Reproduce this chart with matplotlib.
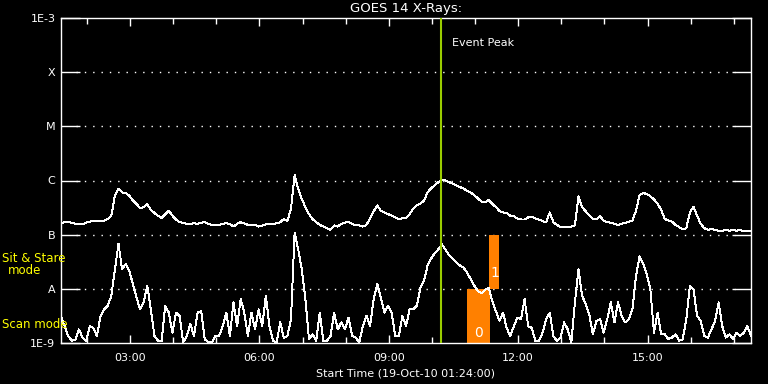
"""
GOES 14 X-ray flux plot, 19-Oct-2010, recreated with matplotlib.
Black background, IDL-style axes, flare classes on the y axis.
"""

import numpy as np
import matplotlib
matplotlib.use("Agg")
import matplotlib.pyplot as plt
import matplotlib.dates as mdates

BG = "black"
FG = "white"
YELLOW = "#ffff00"
ORANGE = "#ff8000"
PEAK = "#9acd00"

# ---------------------------------------------------------------------------
# data: log10 flux (W/m^2), 5 minute cadence from 01:24
# ---------------------------------------------------------------------------
start_time = np.datetime64("2010-10-19T01:24")
cadence_min = 5

# 1-8 Angstrom channel
long_log = [
    -6.80, -6.76, -6.77, -6.78, -6.80, -6.80, -6.81, -6.78, -6.76, -6.74, -6.75, -6.74, -6.74, -6.71, -6.65, -6.28,
    -6.15, -6.22, -6.23, -6.28, -6.37, -6.43, -6.51, -6.49, -6.44, -6.54, -6.60, -6.65, -6.69, -6.62, -6.56, -6.65,
    -6.72, -6.77, -6.78, -6.80, -6.80, -6.79, -6.80, -6.78, -6.77, -6.80, -6.82, -6.83, -6.82, -6.80, -6.79, -6.80,
    -6.85, -6.80, -6.77, -6.79, -6.82, -6.83, -6.82, -6.85, -6.83, -6.81, -6.80, -6.80, -6.79, -6.77, -6.71, -6.75,
    -6.52, -5.90, -6.15, -6.34, -6.49, -6.62, -6.71, -6.77, -6.82, -6.85, -6.88, -6.91, -6.83, -6.85, -6.80, -6.78,
    -6.76, -6.80, -6.83, -6.83, -6.85, -6.82, -6.70, -6.57, -6.46, -6.56, -6.59, -6.62, -6.65, -6.68, -6.71, -6.70,
    -6.70, -6.62, -6.52, -6.46, -6.43, -6.37, -6.22, -6.14, -6.09, -6.03, -5.99, -6.00, -6.03, -6.06, -6.09, -6.12,
    -6.15, -6.19, -6.22, -6.27, -6.33, -6.39, -6.40, -6.36, -6.43, -6.49, -6.56, -6.59, -6.60, -6.65, -6.66, -6.70,
    -6.72, -6.72, -6.68, -6.67, -6.70, -6.72, -6.75, -6.77, -6.59, -6.77, -6.82, -6.86, -6.86, -6.85, -6.85, -6.83,
    -6.29, -6.49, -6.57, -6.64, -6.71, -6.72, -6.66, -6.74, -6.77, -6.78, -6.80, -6.82, -6.80, -6.78, -6.76, -6.74,
    -6.56, -6.27, -6.23, -6.25, -6.29, -6.35, -6.43, -6.54, -6.71, -6.74, -6.76, -6.82, -6.86, -6.90, -6.88, -6.59,
    -6.48, -6.65, -6.80, -6.88, -6.91, -6.90, -6.91, -6.93, -6.93, -6.91, -6.93, -6.91, -6.93, -6.91, -6.94, -6.94,
    -6.94,
]

# 0.5-4 Angstrom channel
short_log = [
    -8.50, -8.69, -8.87, -8.96, -8.94, -8.75, -8.90, -8.96, -8.69, -8.72, -8.87, -8.50, -8.38, -8.31, -8.13, -7.64,
    -7.17, -7.64, -7.54, -7.67, -7.91, -8.16, -8.38, -8.25, -7.94, -8.38, -8.87, -8.96, -8.96, -8.31, -8.44, -8.81,
    -8.44, -8.50, -8.99, -8.87, -8.65, -8.87, -8.44, -8.41, -8.93, -8.99, -8.99, -8.87, -8.87, -8.69, -8.44, -8.87,
    -8.25, -8.69, -8.19, -8.44, -8.87, -8.44, -8.75, -8.38, -8.69, -8.13, -8.69, -8.96, -8.99, -8.62, -8.90, -8.87,
    -8.56, -6.96, -7.27, -7.64, -8.19, -8.93, -8.84, -8.96, -8.44, -8.96, -8.96, -8.87, -8.44, -8.75, -8.62, -8.75,
    -8.53, -8.87, -8.90, -8.99, -8.69, -8.50, -8.69, -8.19, -7.91, -8.16, -8.44, -8.31, -8.44, -8.87, -8.87, -8.50,
    -8.69, -8.38, -8.38, -8.31, -7.98, -7.85, -7.57, -7.44, -7.34, -7.27, -7.18, -7.28, -7.38, -7.44, -7.51, -7.57,
    -7.61, -7.70, -7.82, -7.94, -8.04, -8.08, -8.02, -7.98, -8.22, -8.41, -8.59, -8.44, -8.72, -8.87, -8.69, -8.53,
    -8.56, -8.19, -8.69, -8.72, -8.96, -8.96, -8.81, -8.56, -8.44, -8.87, -8.96, -8.90, -8.62, -8.75, -8.99, -8.25,
    -7.64, -8.13, -8.28, -8.47, -8.84, -8.59, -8.56, -8.81, -8.56, -8.25, -8.62, -8.25, -8.50, -8.62, -8.56, -8.38,
    -7.76, -7.40, -7.54, -7.73, -8.01, -8.81, -8.44, -8.84, -8.84, -8.93, -8.90, -8.84, -8.96, -8.93, -8.56, -7.94,
    -8.01, -8.50, -8.59, -8.87, -8.90, -8.75, -8.59, -8.25, -8.69, -8.90, -8.84, -8.93, -8.81, -8.87, -8.81, -8.69,
    -8.87,
]

# observing mode blocks (0 = scan mode, 1 = sit & stare)
mode_start = ["2010-10-19T10:49", "2010-10-19T11:20"]
mode_end = ["2010-10-19T11:21", "2010-10-19T11:34"]
mode_low = [1e-9, 1e-8]
mode_high = [1e-8, 1e-7]
mode_label = ["0", "1"]
mode_label_y = [1.5e-9, 1.95e-8]

event_peak = np.datetime64("2010-10-19T10:13")
x_start = np.datetime64("2010-10-19T01:24")
x_end = np.datetime64("2010-10-19T17:24")

flare_levels = [1e-9, 1e-8, 1e-7, 1e-6, 1e-5, 1e-4, 1e-3]
flare_names = ["1E-9", "A", "B", "C", "M", "X", "1E-3"]


def make_plot():
    fig = plt.figure(figsize=(7.68, 3.84), dpi=100)
    fig.patch.set_facecolor(BG)
    ax = fig.add_axes([61 / 768, 1 - 343 / 384, 690 / 768, 325 / 384])
    ax.set_facecolor(BG)

    n = len(long_log)
    times = start_time + np.arange(n) * np.timedelta64(cadence_min, "m")

    # mode blocks
    for t0, t1, lo, hi, lab, ly in zip(mode_start, mode_end, mode_low,
                                       mode_high, mode_label, mode_label_y):
        t0 = np.datetime64(t0)
        t1 = np.datetime64(t1)
        ax.fill_between([t0, t1], lo, hi, color=ORANGE, lw=0, zorder=2)
        tm = t0 + (t1 - t0) / 2
        ax.text(tm, ly, lab, color=FG, fontsize=10, ha="center", va="center",
                zorder=3)

    # crisp 1px lines like the IDL original
    ax.plot(times, 10 ** np.array(long_log), color=FG, lw=0.7,
            antialiased=False, zorder=4)
    ax.plot(times, 10 ** np.array(short_log), color=FG, lw=0.7,
            antialiased=False, zorder=4)

    ax.axvline(event_peak, color=PEAK, lw=1.5, zorder=5)

    # dotted class lines
    for lev in flare_levels[1:-1]:
        ax.axhline(lev, xmin=15 / 690, xmax=1 - 16 / 690, color=FG,
                   lw=1.0, ls=(0, (1, 5)), zorder=1)

    ax.set_yscale("log")
    ax.set_ylim(1e-9, 1e-3)
    ax.set_xlim(x_start, x_end)
    ax.set_yticks(flare_levels)
    ax.set_yticklabels(flare_names)
    ax.yaxis.set_minor_locator(matplotlib.ticker.NullLocator())

    ax.xaxis.set_major_locator(mdates.HourLocator(byhour=range(0, 24, 3)))
    ax.xaxis.set_minor_locator(mdates.HourLocator())
    ax.xaxis.set_major_formatter(mdates.DateFormatter("%H:%M"))

    ax.tick_params(axis="x", which="major", direction="in", length=6,
                   width=1, color=FG, labelcolor=FG, labelsize=8, pad=7,
                   top=True, bottom=True)
    ax.tick_params(axis="x", which="minor", direction="in", length=4,
                   width=1, color=FG, top=True, bottom=True)
    ax.tick_params(axis="y", which="major", direction="in", length=14,
                   width=1, color=FG, labelcolor=FG, labelsize=8, pad=4,
                   left=True, right=True)
    for sp in ax.spines.values():
        sp.set_color(FG)
        sp.set_linewidth(1.0)

    ax.set_title("GOES 14 X-Rays:", color=FG, fontsize=9.5, pad=4)
    ax.set_xlabel("Start Time (19-Oct-10 01:24:00)", color=FG, fontsize=8,
                  labelpad=4)

    fig.text(452 / 768, 1 - 43 / 384, "Event Peak", color=FG, fontsize=8,
             ha="left", va="center")
    fig.text(2 / 768, 1 - 258 / 384, "Sit & Stare", color=YELLOW,
             fontsize=8.5, ha="left", va="center")
    fig.text(25 / 768, 1 - 270 / 384, "mode", color=YELLOW, fontsize=8.5,
             ha="center", va="center")
    fig.text(2 / 768, 1 - 324 / 384, "Scan mode", color=YELLOW, fontsize=8.5,
             ha="left", va="center")

    fig.savefig("out.png", dpi=100, facecolor=BG)
    plt.close(fig)


if __name__ == "__main__":
    make_plot()
